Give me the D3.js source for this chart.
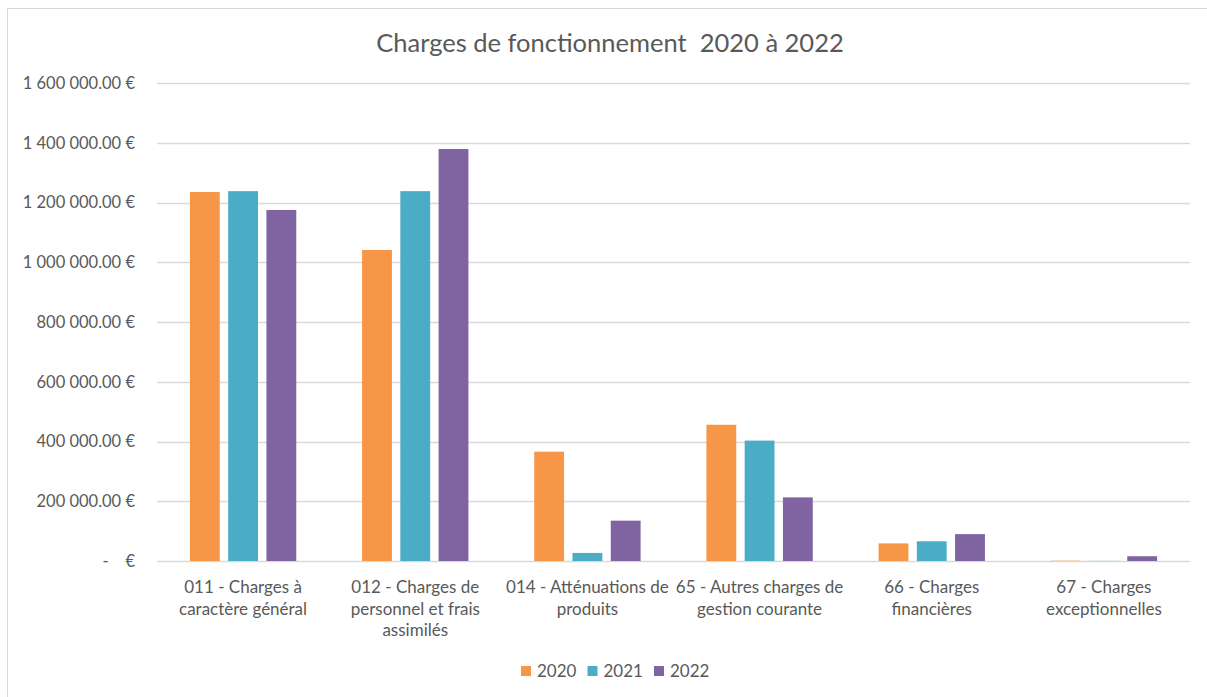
<!DOCTYPE html>
<html lang="fr">
<head>
  <meta charset="utf-8">
  <title>Charges de fonctionnement 2020 à 2022</title>
  <script src="https://d3js.org/d3.v7.min.js"></script>
  <style>
    body { margin: 0; background: #fff; }
    text { font-family: Lato, "Noto Sans", sans-serif; fill: #595959; }
  </style>
</head>
<body>
<script>
// data
var categories = [
  ["011 - Charges à", "caractère général"],
  ["012 - Charges de", "personnel et frais", "assimilés"],
  ["014 - Atténuations de", "produits"],
  ["65 - Autres charges de", "gestion courante"],
  ["66 - Charges", "financières"],
  ["67 - Charges", "exceptionnelles"]
];
var years = ["2020", "2021", "2022"];
var values2020 = [1235000, 1041000, 366000, 456000, 59000, 1000];
var values2021 = [1238000, 1238000, 27000, 403000, 66000, 500];
var values2022 = [1175000, 1379000, 135000, 213000, 90000, 16000];
var yTicks = [0, 200000, 400000, 600000, 800000, 1000000, 1200000, 1400000, 1600000];
var colors = ["#F79646", "#4BACC6", "#8064A2"];

var series = [values2020, values2021, values2022];

var width = 1207, height = 697;
var svg = d3.select("body").append("svg")
  .attr("width", width).attr("height", height);

// chart frame
svg.append("rect")
  .attr("x", 7.5).attr("y", 8.5)
  .attr("width", 1210).attr("height", 700)
  .attr("fill", "none").attr("stroke", "#d9d9d9");

var plotLeft = 157, plotRight = 1190, plotTop = 83, plotBottom = 561;

var x = d3.scaleBand()
  .domain(d3.range(categories.length))
  .range([plotLeft, plotRight])
  .paddingInner(0).paddingOuter(0);

var xSub = d3.scaleBand()
  .domain(years)
  .range([0, x.bandwidth()])
  .paddingOuter(0.86)
  .paddingInner(0.22);

var y = d3.scaleLinear()
  .domain([0, 1600000])
  .range([plotBottom, plotTop]);

function fmt(v) {
  if (v === 0) return "-\u00a0\u00a0\u00a0\u00a0€";
  return d3.format(",.2f")(v).replace(/,/g, "\u00a0") + "\u00a0€";
}

// gridlines
svg.append("g").selectAll("line")
  .data(yTicks)
  .enter().append("line")
  .attr("x1", plotLeft).attr("x2", plotRight)
  .attr("y1", function(d) { return Math.round(y(d)) + 0.5; })
  .attr("y2", function(d) { return Math.round(y(d)) + 0.5; })
  .attr("stroke", "#d9d9d9").attr("stroke-width", 1.3);

// y labels
svg.append("g").selectAll("text")
  .data(yTicks)
  .enter().append("text")
  .attr("x", 135)
  .attr("y", function(d) { return y(d); })
  .attr("dy", "0.35em")
  .attr("text-anchor", "end")
  .attr("font-size", "16.5px")
  .text(fmt);

// bars
var groups = svg.append("g").selectAll("g")
  .data(categories)
  .enter().append("g")
  .attr("transform", function(d, i) { return "translate(" + x(i) + ",0)"; });

groups.selectAll("rect")
  .data(function(d, i) {
    return years.map(function(yr, k) { return { year: yr, value: series[k][i], k: k }; });
  })
  .enter().append("rect")
  .attr("x", function(d) { return xSub(d.year); })
  .attr("width", xSub.bandwidth())
  .attr("y", function(d) { return y(d.value); })
  .attr("height", function(d) { return plotBottom - y(d.value); })
  .attr("fill", function(d) { return colors[d.k]; });

// category labels
groups.append("text")
  .attr("text-anchor", "middle")
  .attr("font-size", "17px")
  .selectAll("tspan")
  .data(function(d) { return d; })
  .enter().append("tspan")
  .attr("x", x.bandwidth() / 2)
  .attr("y", function(d, j) { return 593 + j * 21.5; })
  .text(function(d) { return d; });

// title
svg.append("text")
  .attr("x", 610).attr("y", 52)
  .attr("text-anchor", "middle")
  .attr("font-size", "25.5px")
  .text("Charges de fonctionnement\u00a0 2020 à 2022");

// legend
var legend = svg.append("g").selectAll("g")
  .data(years)
  .enter().append("g")
  .attr("transform", function(d, i) { return "translate(" + (521 + i * 66.5) + ",671)"; });

legend.append("rect")
  .attr("x", 0).attr("y", -5)
  .attr("width", 10).attr("height", 10)
  .attr("fill", function(d, i) { return colors[i]; });

legend.append("text")
  .attr("x", 16).attr("dy", "0.35em")
  .attr("font-size", "17px")
  .text(function(d) { return d; });
</script>
</body>
</html>
